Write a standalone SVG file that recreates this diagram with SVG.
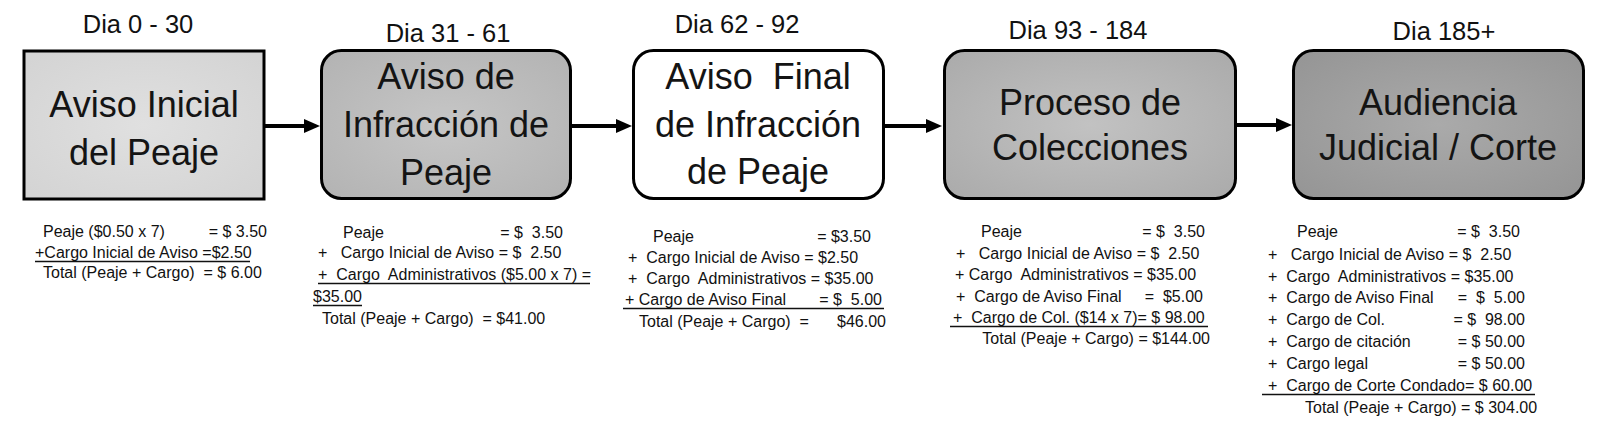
<svg xmlns="http://www.w3.org/2000/svg" width="1600" height="437" viewBox="0 0 1600 437">
<style>
.box{stroke:#000;stroke-width:3}
.title{font-family:"Liberation Sans",Arial,sans-serif;font-size:36px;fill:#141414;text-anchor:middle;white-space:pre}
.day{font-family:"Liberation Sans",Arial,sans-serif;font-size:25.5px;fill:#111;text-anchor:middle}
.t{font-family:"Liberation Sans",Arial,sans-serif;font-size:16px;fill:#111;white-space:pre}
.r{text-anchor:end}
.ul{stroke:#111;stroke-width:1.3}
.conn{stroke:#000;stroke-width:4;fill:none;marker-end:url(#ah)}
</style>
<defs>
<marker id="ah" markerUnits="userSpaceOnUse" viewBox="0 0 16 16" markerWidth="16" markerHeight="16" refX="8" refY="8" orient="auto">
<path d="M0,1 L16,8 L0,15 z" fill="#000"/>
</marker>
<radialGradient id="g1" cx="50%" cy="50%" r="65%"><stop offset="0" stop-color="#e0e0e0"/><stop offset="1" stop-color="#d4d4d4"/></radialGradient>
<radialGradient id="g2" cx="50%" cy="50%" r="65%"><stop offset="0" stop-color="#c6c6c6"/><stop offset="1" stop-color="#b4b4b4"/></radialGradient>
<radialGradient id="g4" cx="50%" cy="50%" r="65%"><stop offset="0" stop-color="#c2c2c2"/><stop offset="1" stop-color="#acacac"/></radialGradient>
<radialGradient id="g5" cx="50%" cy="50%" r="65%"><stop offset="0" stop-color="#aaaaaa"/><stop offset="1" stop-color="#969696"/></radialGradient>
</defs>
<rect width="1600" height="437" fill="#fff"/>

<g id="connectors">
<path class="conn" d="M265,126 H312"/>
<path class="conn" d="M572,126 H624"/>
<path class="conn" d="M885,126 H934"/>
<path class="conn" d="M1237,125 H1284"/>
</g>

<g id="node1">
<text class="day" x="138" y="33">Dia 0 - 30</text>
<rect class="box" x="24" y="51" width="240" height="148" fill="url(#g1)"/>
<text class="title" x="144" y="117">Aviso Inicial</text>
<text class="title" x="144" y="165">del Peaje</text>
</g>

<g id="node2">
<text class="day" x="448" y="42">Dia 31 - 61</text>
<rect class="box" x="321.5" y="50.5" width="249" height="148" rx="20" fill="url(#g2)"/>
<text class="title" x="446" y="89">Aviso de</text>
<text class="title" x="446" y="137">Infracción de</text>
<text class="title" x="446" y="185">Peaje</text>
</g>

<g id="node3">
<text class="day" x="737" y="33">Dia 62 - 92</text>
<rect class="box" x="633.5" y="50.5" width="250" height="148" rx="20" fill="#fff"/>
<text class="title" x="758" y="89">Aviso  Final</text>
<text class="title" x="758" y="137">de Infracción</text>
<text class="title" x="758" y="184">de Peaje</text>
</g>

<g id="node4">
<text class="day" x="1078" y="39">Dia 93 - 184</text>
<rect class="box" x="944.5" y="50.5" width="291" height="148" rx="20" fill="url(#g4)"/>
<text class="title" x="1090" y="115">Proceso de</text>
<text class="title" x="1090" y="160">Colecciones</text>
</g>

<g id="node5">
<text class="day" x="1444" y="40">Dia 185+</text>
<rect class="box" x="1293.5" y="50.5" width="290" height="148" rx="20" fill="url(#g5)"/>
<text class="title" x="1438" y="115">Audiencia</text>
<text class="title" x="1438" y="160">Judicial / Corte</text>
</g>

<g id="costs1">
<text class="t" x="43" y="237">Peaje ($0.50 x 7)</text>
<text class="t r" x="267" y="237">= $ 3.50</text>
<text class="t" x="35" y="258">+Cargo Inicial de Aviso =$2.50</text>
<line class="ul" x1="35" y1="261.5" x2="250" y2="261.5"/>
<text class="t" x="43" y="278">Total (Peaje + Cargo)  = $ 6.00</text>
</g>

<g id="costs2">
<text class="t" x="343" y="238">Peaje</text>
<text class="t r" x="563" y="238">= $  3.50</text>
<text class="t" x="318" y="258">+   Cargo Inicial de Aviso = $  2.50</text>
<text class="t" x="318" y="280">+  Cargo  Administrativos ($5.00 x 7) =</text>
<line class="ul" x1="318" y1="283.5" x2="590" y2="283.5"/>
<text class="t" x="313" y="302">$35.00</text>
<line class="ul" x1="313" y1="305.5" x2="362" y2="305.5"/>
<text class="t" x="322" y="324">Total (Peaje + Cargo)  = $41.00</text>
</g>

<g id="costs3">
<text class="t" x="653" y="242">Peaje</text>
<text class="t r" x="871" y="242">= $3.50</text>
<text class="t" x="628" y="263">+  Cargo Inicial de Aviso = $2.50</text>
<text class="t" x="628" y="284">+  Cargo  Administrativos = $35.00</text>
<text class="t" x="625" y="305">+ Cargo de Aviso Final</text>
<text class="t r" x="882" y="305">= $  5.00</text>
<line class="ul" x1="623" y1="308.5" x2="884" y2="308.5"/>
<text class="t" x="639" y="327">Total (Peaje + Cargo)  =</text>
<text class="t r" x="886" y="327">$46.00</text>
</g>

<g id="costs4">
<text class="t" x="981" y="237">Peaje</text>
<text class="t r" x="1205" y="237">= $  3.50</text>
<text class="t" x="956" y="259">+   Cargo Inicial de Aviso = $  2.50</text>
<text class="t" x="955" y="280">+ Cargo  Administrativos = $35.00</text>
<text class="t" x="956" y="302">+  Cargo de Aviso Final</text>
<text class="t r" x="1203" y="302">=  $5.00</text>
<text class="t" x="953" y="323">+  Cargo de Col. ($14 x 7)= $ 98.00</text>
<line class="ul" x1="950" y1="326.5" x2="1208" y2="326.5"/>
<text class="t r" x="1210" y="344">Total (Peaje + Cargo) = $144.00</text>
</g>

<g id="costs5">
<text class="t" x="1297" y="237">Peaje</text>
<text class="t r" x="1520" y="237">= $  3.50</text>
<text class="t" x="1268" y="260">+   Cargo Inicial de Aviso = $  2.50</text>
<text class="t" x="1268" y="282">+  Cargo  Administrativos = $35.00</text>
<text class="t" x="1268" y="303">+  Cargo de Aviso Final</text>
<text class="t r" x="1525" y="303">=  $  5.00</text>
<text class="t" x="1268" y="325">+  Cargo de Col.</text>
<text class="t r" x="1525" y="325">= $  98.00</text>
<text class="t" x="1268" y="347">+  Cargo de citación</text>
<text class="t r" x="1525" y="347">= $ 50.00</text>
<text class="t" x="1268" y="369">+  Cargo legal</text>
<text class="t r" x="1525" y="369">= $ 50.00</text>
<text class="t" x="1268" y="391">+  Cargo de Corte Condado= $ 60.00</text>
<line class="ul" x1="1262" y1="394.5" x2="1535" y2="394.5"/>
<text class="t" x="1305" y="413">Total (Peaje + Cargo) = $ 304.00</text>
</g>
</svg>
